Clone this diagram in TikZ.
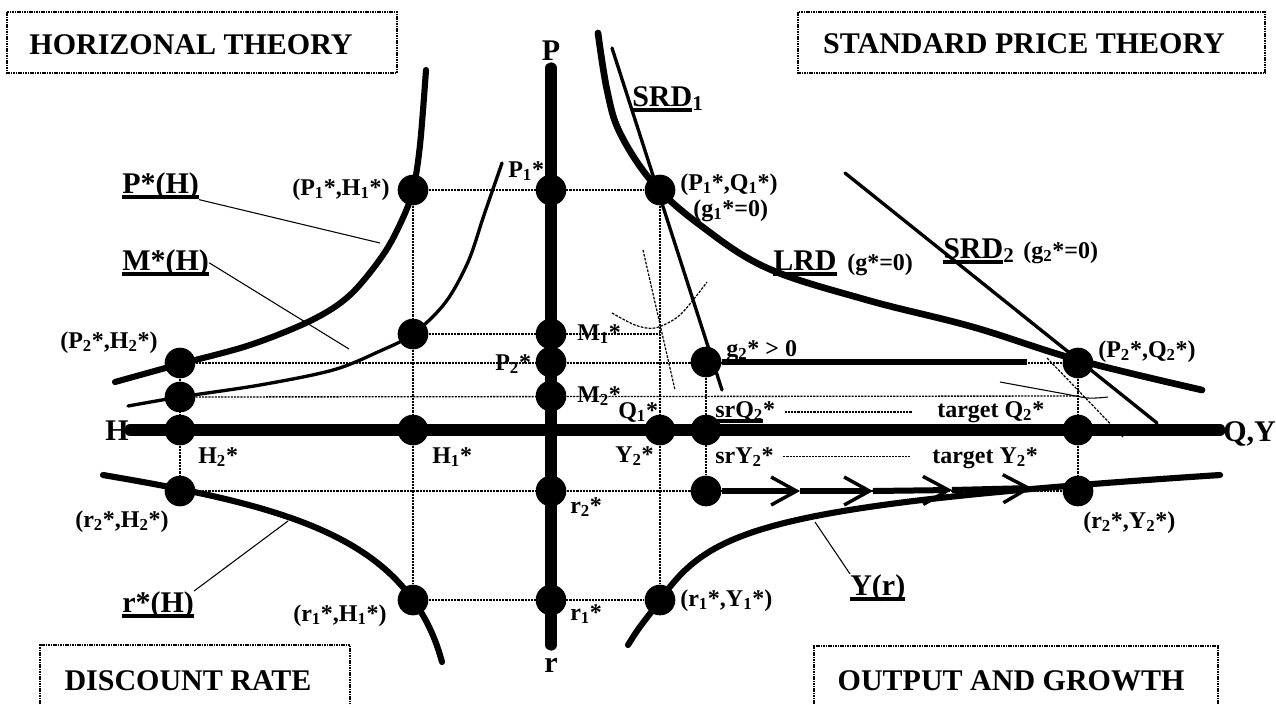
\documentclass[tikz,border=0pt]{standalone}
\usepackage{fontspec}
\setmainfont{Liberation Serif}
\usetikzlibrary{arrows.meta}
\newsavebox{\ulbox}
\newcommand{\thul}[1]{\sbox{\ulbox}{#1}\rlap{\rule[-4.6pt]{\wd\ulbox}{3pt}}\usebox{\ulbox}}
\tikzset{
  guide/.style={line width=1pt, dash pattern=on 1.6pt off 0.8pt},
  frame/.style={line width=0.9pt, dash pattern=on 1.2pt off 0.6pt},
  axis/.style={line width=8.5pt, line cap=round},
  fat/.style={line width=4.6pt, line cap=round},
  slim/.style={line width=2.5pt, line cap=round},
  leader/.style={line width=0.8pt},
  faint/.style={line width=0.9pt, dash pattern=on 2pt off 1pt},
  blob/.style={circle, fill, inner sep=0pt, minimum size=23pt},
  biglab/.style={font=\fontsize{22.5}{26}\selectfont\bfseries, inner sep=0pt},
  lab/.style={font=\fontsize{18}{21}\selectfont\bfseries, inner sep=0pt},
  flow/.style={line width=4.5pt, -{Straight Barb[length=19pt, width=21pt, line width=2.6pt]}}
}

\begin{document}
\begin{tikzpicture}[x=0.75pt,y=-0.75pt]
  \useasboundingbox (0,0) rectangle (1276,704);

  % corner frames
  \draw[frame] (7,12) rectangle (397,73);
  \draw[frame] (798,12) rectangle (1265,73);
  \draw[frame] (40,704) |- (350,645) -- (350,704);
  \draw[frame] (814,704) |- (1218,646) -- (1218,704);
  \node[biglab, anchor=base] (tHor) at (191,54) {HORIZONAL THEORY};
  \node[biglab, anchor=base] (tStd) at (1024,53) {STANDARD PRICE THEORY};
  \node[biglab, anchor=base] (tDis) at (188,690) {DISCOUNT RATE};
  \node[biglab, anchor=base] (tOut) at (1011,690) {OUTPUT AND GROWTH};

  % equilibrium points
  \node[blob] (dPH2) at (180,363) {};
  \node[blob] (dMH2) at (180,397) {};
  \node[blob] (dH2)  at (180,430) {};
  \node[blob] (drH2) at (180,491) {};
  \node[blob] (dPH1) at (413,190) {};
  \node[blob] (dMH1) at (413,334) {};
  \node[blob] (dH1)  at (413,430) {};
  \node[blob] (drH1) at (413,600) {};
  \node[blob] (dP1)  at (551,190) {};
  \node[blob] (dM1)  at (551,334) {};
  \node[blob] (dP2)  at (551,362) {};
  \node[blob] (dM2)  at (551,396) {};
  \node[blob] (dr2)  at (551,491) {};
  \node[blob] (dr1)  at (551,600) {};
  \node[blob] (dPQ1) at (660,190) {};
  \node[blob] (dQ1)  at (660,430) {};
  \node[blob] (drY1) at (660,600) {};
  \node[blob] (dg2)  at (706,362) {};
  \node[blob] (dsrQ) at (706,430) {};
  \node[blob] (dsrY) at (706,491) {};
  \node[blob] (dPQ2) at (1078,363) {};
  \node[blob] (dQ2)  at (1078,430) {};
  \node[blob] (drY2) at (1078,491) {};
  \coordinate (m1end) at (660,334);
  \coordinate (m2end) at (1078,396);

  % guide lines
  \draw[guide] (dPH1) -- (dPQ1);
  \draw[guide] (dMH1) -- (m1end);
  \draw[guide] (dPH2) -- (dPQ2);
  \draw[guide] (dMH2) -- (m2end);
  \draw[guide] (drH2) -- (drY2);
  \draw[guide] (drH1) -- (drY1);
  \draw[guide] (dPH2) -- (drH2);
  \draw[guide] (dPH1) -- (drH1);
  \draw[guide] (dPQ1) -- (drY1);
  \draw[guide] (dg2) -- (dsrY);
  \draw[guide] (dPQ2) -- (drY2);

  % axes
  \coordinate (ptop) at (551,68);
  \coordinate (rbot) at (551,645);
  \coordinate (hleft) at (130,430);
  \coordinate (qright) at (1220,430);
  \draw[axis] (ptop) -- (rbot);
  \draw[axis] (hleft) -- (qright);
  \node[biglab, anchor=base] (lP) at (551,60) {P};
  \node[biglab, anchor=base] (lr) at (551,672) {r};
  \node[biglab, anchor=base east] (lH) at (129,440) {H};
  \node[biglab, anchor=base west] (lQY) at (1223,441) {Q,Y};

  % curves
  \draw[fat] plot[smooth, tension=0.55] coordinates {(115,382) (180,364) (250,345) (312,320) (350,295) (383,255) (402,220) (413,190) (420,145) (426,70)};
  \draw[slim] plot[smooth, tension=0.55] coordinates {(128,406) (180,397) (260,385) (333,370) (380,351) (413,334) (445,303) (468,262) (484,215) (502,163)};
  \draw[fat] (103,475) .. controls (250,500) and (360,525) .. (413,600) .. controls (428,621) and (436,640) .. (442,662);
  \draw[fat] (628,645) .. controls (642,622) and (646,620) .. (660,600) .. controls (710,530) and (760,505) .. (1220,475);
  \draw[fat, line width=5pt] plot[smooth, tension=0.6] coordinates {(598,33) (607,90) (620,133) (653,183) (700,225) (767,268) (867,300) (973,327) (1078,360) (1202,390)};
  \coordinate (s1a) at (612,48);
  \coordinate (s1b) at (722,390);
  \coordinate (s2a) at (845,173);
  \coordinate (s2b) at (1157,423);
  \draw[slim] (s1a) -- (s1b);
  \draw[slim] (s2a) -- (s2b);
  \draw[faint] (643,250) -- (675,390);
  \draw[faint] plot[smooth] coordinates {(612,313) (635,325) (655,328) (680,315) (707,282)};
  \draw[leader] plot[smooth] coordinates {(1000,382) (1060,393) (1088,398) (1108,397)};
  \draw[faint] (1047,358) -- (1123,437);

  % short-run path
  \coordinate (g2end) at (1027,362);
  \draw[fat, line width=5pt, line cap=butt] (dg2) -- (g2end);
  \coordinate (f1) at (800,491);
  \coordinate (f2) at (873,491);
  \coordinate (f3) at (952,490);
  \coordinate (f4) at (1032,488);
  \draw[flow] (dsrY) -- (f1);
  \draw[flow] (f1) -- (f2);
  \draw[flow] (f2) -- (f3);
  \draw[flow] (f3) -- (f4);

  % point labels
  \node[lab, anchor=base west] (lPH1) at (292,195) {(P\textsubscript{1}*,H\textsubscript{1}*)};
  \node[lab, anchor=base west] (lP1) at (508,177) {P\textsubscript{1}*};
  \node[lab, anchor=base west] (lPQ1) at (680,190) {(P\textsubscript{1}*,Q\textsubscript{1}*)};
  \node[lab, anchor=base west] (lg1) at (693,216) {(g\textsubscript{1}*=0)};
  \node[lab, anchor=base west] (lPH2) at (60,348) {(P\textsubscript{2}*,H\textsubscript{2}*)};
  \node[lab, anchor=base west] (lH2) at (198,463) {H\textsubscript{2}*};
  \node[lab, anchor=base west] (lH1) at (432,463) {H\textsubscript{1}*};
  \node[lab, anchor=base west] (lrH2) at (75,527) {(r\textsubscript{2}*,H\textsubscript{2}*)};
  \node[lab, anchor=base west] (lrH1) at (293,621) {(r\textsubscript{1}*,H\textsubscript{1}*)};
  \node[lab, anchor=base west] (lr2) at (570,513) {r\textsubscript{2}*};
  \node[lab, anchor=base west] (lr1) at (570,620) {r\textsubscript{1}*};
  \node[lab, anchor=base west] (lrY1) at (680,606) {(r\textsubscript{1}*,Y\textsubscript{1}*)};
  \node[lab, anchor=base west] (lrY2) at (1083,528) {(r\textsubscript{2}*,Y\textsubscript{2}*)};
  \node[lab, anchor=base west] (lPQ2) at (1098,357) {(P\textsubscript{2}*,Q\textsubscript{2}*)};
  \node[lab, anchor=base west] (lM1) at (577,340) {M\textsubscript{1}*};
  \node[lab, anchor=base west] (lP2) at (495,370) {P\textsubscript{2}*};
  \node[lab, anchor=base west] (lM2) at (577,402) {M\textsubscript{2}*};
  \node[lab, anchor=base west] (lQ1) at (618,418) {Q\textsubscript{1}*};
  \node[lab, anchor=base west] (lY2) at (615,462) {Y\textsubscript{2}*};
  \node[lab, anchor=base west] (lg2) at (726,356) {g\textsubscript{2}* > 0};
  \node[lab, anchor=base west] (lsrQ) at (715,417) {\thul{srQ\textsubscript{2}}*};
  \node[lab, anchor=base west] (ltgQ) at (937,417) {target Q\textsubscript{2}*};
  \node[lab, anchor=base west] (lsrY) at (715,463) {srY\textsubscript{2}*};
  \node[lab, anchor=base west] (ltgY) at (932,463) {target Y\textsubscript{2}*};
  \draw[guide, shorten <=7pt, shorten >=19pt] (lsrQ.east) -- (lsrQ.east -| ltgQ.west);
  \draw[guide, shorten <=7pt, shorten >=16pt] (lsrY.east) -- (lsrY.east -| ltgY.west);

  % curve names
  \node[biglab, anchor=base west] (lSRD1) at (632,106) {\thul{SRD}\textsubscript{1}};
  \node[biglab, anchor=base west] (lLRD) at (773,270) {\thul{LRD}};
  \node[lab, anchor=base west] (lgLRD) at (847,270) {(g*=0)};
  \node[biglab, anchor=base west] (lSRD2) at (943,258) {\thul{SRD}\textsubscript{2}};
  \node[lab, anchor=base west] (lgSRD2) at (1023,258) {(g\textsubscript{2}*=0)};
  \node[biglab, anchor=base west] (lPH) at (122,193) {\thul{P*(H)}};
  \node[biglab, anchor=base west] (lMH) at (122,270) {\thul{M*(H)}};
  \node[biglab, anchor=base west] (lrH) at (122,612) {\thul{r*(H)}};
  \node[biglab, anchor=base west] (lYr) at (850,595) {\thul{Y(r)}};
  \coordinate (kPH) at (380,243);
  \coordinate (kMH) at (349,349);
  \coordinate (krH) at (288,521);
  \coordinate (kYr) at (815,522);
  \draw[leader] (lPH.south east) -- (kPH);
  \draw[leader] (lMH.east) -- (kMH);
  \draw[leader] (lrH.north east) -- (krH);
  \draw[leader] (lYr.north west) -- (kYr);
\end{tikzpicture}
\end{document}
